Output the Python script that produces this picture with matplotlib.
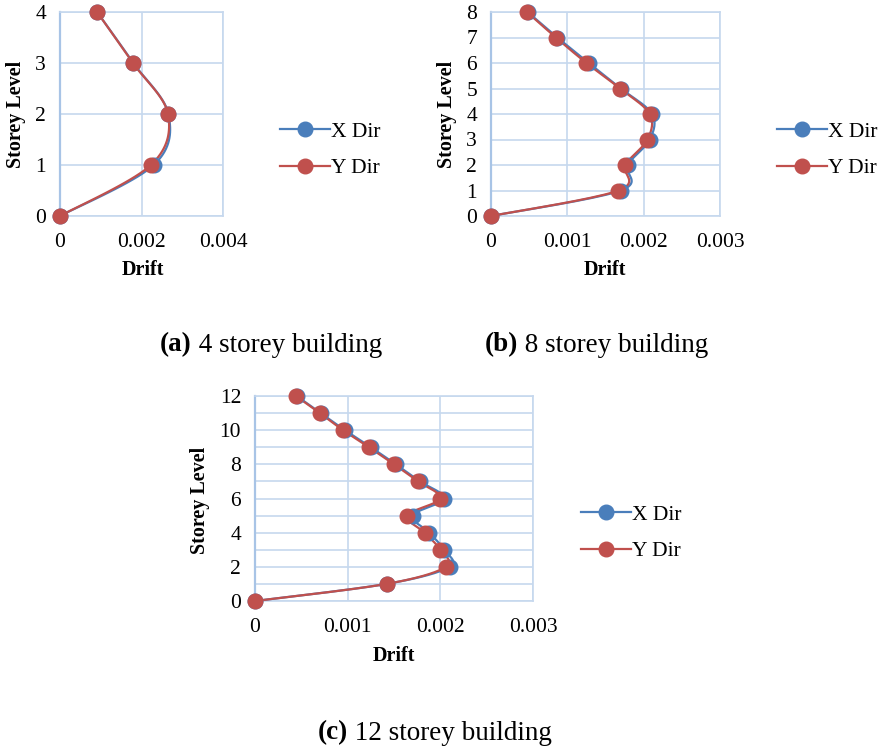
import numpy as np
import matplotlib
matplotlib.use("Agg")
import matplotlib.pyplot as plt
from matplotlib.lines import Line2D
from matplotlib.text import Annotation

plt.rcParams['font.family'] = ['Liberation Serif', 'DejaVu Serif']

# storey drift values
levels_4 = [0, 1, 2, 3, 4]
x_dir_4 = [0, 0.00230, 0.00266, 0.00180, 0.00091]
y_dir_4 = [0, 0.00223, 0.00265, 0.00179, 0.00091]

levels_8 = [0, 1, 2, 3, 4, 5, 6, 7, 8]
x_dir_8 = [0, 0.00170, 0.00179, 0.00208, 0.00211, 0.00170, 0.00128, 0.00087, 0.00048]
y_dir_8 = [0, 0.00167, 0.00176, 0.00205, 0.00208, 0.00169, 0.00125, 0.00085, 0.00047]

levels_12 = [0, 1, 2, 3, 4, 5, 6, 7, 8, 9, 10, 11, 12]
x_dir_12 = [0, 0.00142, 0.00210, 0.00204, 0.00188, 0.00170, 0.00204, 0.00178, 0.00152,
            0.00125, 0.00097, 0.00071, 0.00045]
y_dir_12 = [0, 0.00142, 0.00206, 0.00200, 0.00183, 0.00164, 0.00200, 0.00176, 0.00150,
            0.00123, 0.00095, 0.00070, 0.00044]

series_names = ['X Dir', 'Y Dir']
captions = [('(a)', ' 4 storey building'), ('(b)', ' 8 storey building'), ('(c)', ' 12 storey building')]

BLUE = '#4a7ebb'
RED = '#c0504d'
GRID = '#c6d8ee'

W, H = 882, 748
fig = plt.figure(figsize=(W / 100, H / 100), dpi=100)
fig.patch.set_facecolor('white')


def smooth(xs, ys, xmax, ymax, n=20):
    # excel style smoothed line (catmull-rom in screen-like units)
    p = np.column_stack([np.array(xs) / xmax, np.array(ys) / ymax])
    p = np.vstack([p[0], p, p[-1]])
    out = []
    for i in range(1, len(p) - 2):
        p0, p1, p2, p3 = p[i - 1], p[i], p[i + 1], p[i + 2]
        t = np.linspace(0, 1, n)[:, None]
        seg = 0.5 * ((2 * p1) + (-p0 + p2) * t + (2 * p0 - 5 * p1 + 4 * p2 - p3) * t ** 2
                     + (-p0 + 3 * p1 - 3 * p2 + p3) * t ** 3)
        out.append(seg)
    out = np.vstack(out)
    return out[:, 0] * xmax, out[:, 1] * ymax


def panel(rect, levels, xd, yd, xmax, xticks, xlabels, yticks, ylab_x, ylab_y, drift_xy, leg_xy):
    l, t, r, b = rect
    ax = fig.add_axes([l / W, 1 - b / H, (r - l) / W, (b - t) / H])
    ymax = levels[-1]
    for vals, col in [(xd, BLUE), (yd, RED)]:
        sx, sy = smooth(vals, levels, xmax, ymax)
        ax.plot(sx, sy, color=col, lw=1.6, clip_on=False, zorder=3)
        ax.plot(vals, levels, 'o', color=col, ms=10.5, clip_on=False, zorder=4)
    ax.set_xlim(0, xmax)
    ax.set_ylim(0, ymax)
    ax.set_xticks(xticks)
    ax.set_xticklabels(xlabels)
    ax.set_yticks(yticks)
    ax.set_yticks(range(0, ymax + 1), minor=True)
    ax.grid(True, which='both', color=GRID, lw=1.2)
    ax.set_axisbelow(True)
    ax.tick_params(which='both', length=0, labelsize=15.5, pad=12)
    ax.tick_params(axis='y', pad=10)
    for s in ax.spines.values():
        s.set_color(GRID)
        s.set_linewidth(1.2)
    ax.spines['left'].set_color('#a8c4e6')
    ax.spines['left'].set_linewidth(1.6)
    fig.text(ylab_x / W, 1 - ylab_y / H, 'Storey Level', rotation=90, ha='center', va='center',
             fontsize=14.5, fontweight='bold')
    fig.text(drift_xy[0] / W, 1 - drift_xy[1] / H, 'Drift', ha='center', va='center',
             fontsize=14.5, fontweight='bold')
    handles = [Line2D([], [], color=BLUE, lw=1.6, marker='o', ms=10.5),
               Line2D([], [], color=RED, lw=1.6, marker='o', ms=10.5)]
    ax.legend(handles, series_names, loc='center left',
              bbox_to_anchor=(leg_xy[0] / W, 1 - leg_xy[1] / H), bbox_transform=fig.transFigure,
              frameon=False, fontsize=15.5, handlelength=2.3, handletextpad=0.05,
              labelspacing=0.75, borderpad=0, borderaxespad=0)
    return ax


panel((60, 12, 223, 216), levels_4, x_dir_4, y_dir_4, 0.004,
      [0, 0.002, 0.004], ['0', '0.002', '0.004'], range(0, 5), 16, 114, (143, 270), (280, 150))
panel((491, 12, 720, 216), levels_8, x_dir_8, y_dir_8, 0.003,
      [0, 0.001, 0.002, 0.003], ['0', '0.001', '0.002', '0.003'], range(0, 9), 447, 114, (605, 270), (777, 150))
panel((255, 396, 533, 601), levels_12, x_dir_12, y_dir_12, 0.003,
      [0, 0.001, 0.002, 0.003], ['0', '0.001', '0.002', '0.003'], range(0, 13, 2), 200, 500, (394, 656), (581, 533))

for (bold, rest), (cx, cy) in zip(captions, [(160, 345), (485, 345), (318, 733)]):
    bt = fig.text(cx / W, 1 - cy / H, bold, ha='left', va='center', fontsize=19.5, fontweight='bold')
    fig.add_artist(Annotation(rest, xy=(1, 0), xycoords=bt, va='bottom', ha='left', fontsize=19.5))

fig.savefig('out.png', dpi=100)
